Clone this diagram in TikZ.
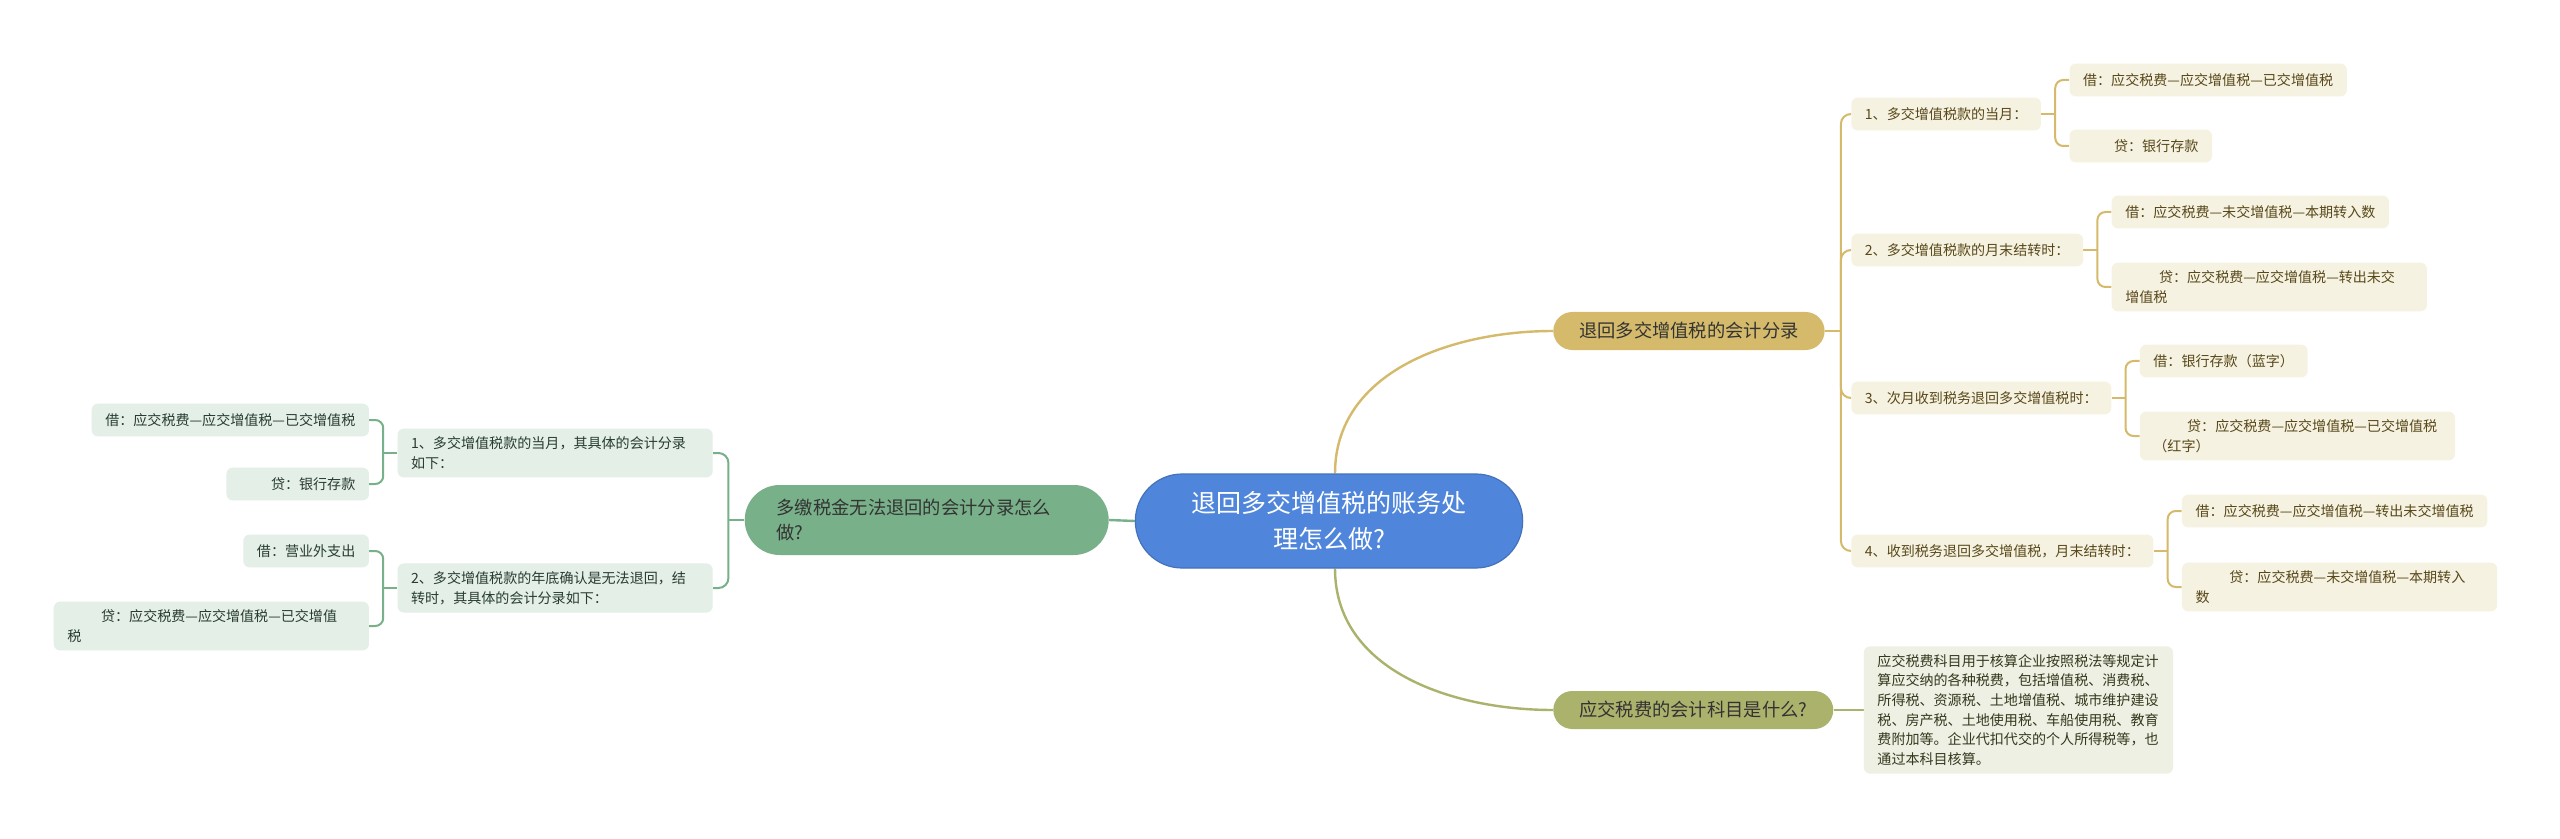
\documentclass[tikz,border=0pt]{standalone}
\usepackage{fontspec}
\usepackage{tikz}
\usepackage{xcolor}
\usetikzlibrary{positioning,backgrounds,calc}
\newfontfamily\cjk{Noto Sans CJK SC}
\definecolor{rootblue}{RGB}{79,134,219}
\definecolor{goldfill}{RGB}{212,186,106}
\definecolor{olivefill}{RGB}{171,178,108}
\definecolor{greenfill}{RGB}{120,176,137}
\definecolor{goldleaf}{RGB}{246,242,225}
\definecolor{oliveleaf}{RGB}{239,240,228}
\definecolor{greenleaf}{RGB}{228,239,232}
\definecolor{goldtext}{RGB}{88,72,26}
\definecolor{olivetext}{RGB}{52,56,28}
\definecolor{greentext}{RGB}{40,60,48}

\begin{document}
\begin{tikzpicture}[x=0.25mm,y=-0.25mm,
  topic/.style={draw=rootblue!85!black,line width=0.3mm,fill=rootblue,text=white,rounded corners=11.7mm,
    minimum height=23.5mm,inner xsep=14mm,align=center,font=\cjk\fontsize{17.8}{25.6}\selectfont},
  branch/.style={rounded corners=4.75mm,minimum height=9.5mm,inner xsep=6.5mm,text=black!80,
    font=\cjk\fontsize{13}{17.5}\selectfont},
  entry/.style={rounded corners=1.6mm,minimum height=8.2mm,inner xsep=3.4mm,inner ysep=2mm,align=left,
    font=\cjk\fontsize{10}{14}\selectfont},
  wide/.style={text width=72mm},
  gentry/.style={entry,fill=goldleaf,text=goldtext},
  oentry/.style={entry,fill=oliveleaf,text=olivetext},
  ventry/.style={entry,fill=greenleaf,text=greentext},
  wire/.style={line width=0.5mm}]
\useasboundingbox (0,0) rectangle (2560,839);
% centre
\node[topic] (root) at (1329,521) {退回多交增值税的账务处\\理怎么做?};
% right upper branch
\node[branch,fill=goldfill,anchor=west] (b1) at (1553,331) {退回多交增值税的会计分录};
\node[gentry,anchor=west] (c1) at (1851,114) {1、多交增值税款的当月：};
\node[gentry,right=7mm of c1,yshift=8.5mm] (c1a) {借：应交税费—应交增值税—已交增值税};
\node[gentry,right=7mm of c1,yshift=-8mm] (c1b) {\hspace*{2.2em}贷：银行存款};
\node[gentry,anchor=west] (c2) at (1851,250) {2、多交增值税款的月末结转时：};
\node[gentry,right=7mm of c2,yshift=9.5mm] (c2a) {借：应交税费—未交增值税—本期转入数};
\node[gentry,wide,right=7mm of c2,yshift=-9.25mm] (c2b) {\hspace*{2.4em}贷：应交税费—应交增值税—转出未交\\增值税};
\node[gentry,anchor=west] (c3) at (1851,398) {3、次月收到税务退回多交增值税时：};
\node[gentry,right=7mm of c3,yshift=9.25mm] (c3a) {借：银行存款（蓝字）};
\node[gentry,wide,right=7mm of c3,yshift=-9.5mm] (c3b) {\hspace*{2.4em}贷：应交税费—应交增值税—已交增值税\\（红字）};
\node[gentry,anchor=west] (c4) at (1851,551) {4、收到税务退回多交增值税，月末结转时：};
\node[gentry,right=7mm of c4,yshift=10mm] (c4a) {借：应交税费—应交增值税—转出未交增值税};
\node[gentry,wide,right=7mm of c4,yshift=-9mm] (c4b) {\hspace*{2.4em}贷：应交税费—未交增值税—本期转入\\数};
% right lower branch
\node[branch,fill=olivefill,anchor=west] (b2) at (1553,710) {应交税费的会计科目是什么?};
\node[oentry,text width=70.5mm,right=7.5mm of b2] (t) {应交税费科目用于核算企业按照税法等规定计\\算应交纳的各种税费，包括增值税、消费税、\\所得税、资源税、土地增值税、城市维护建设\\税、房产税、土地使用税、车船使用税、教育\\费附加等。企业代扣代交的个人所得税等，也\\通过本科目核算。};
% left branch
\node[branch,fill=greenfill,anchor=east,text width=75mm,inner xsep=8mm,minimum height=17.5mm,
  rounded corners=8.75mm,align=left] (gb) at (1109,520) {多缴税金无法退回的会计分录怎么\\做?};
\node[ventry,wide,anchor=east] (l1) at (713,453) {1、多交增值税款的当月，其具体的会计分录\\如下：};
\node[ventry,left=7mm of l1,yshift=8.25mm] (l1a) {借：应交税费—应交增值税—已交增值税};
\node[ventry,left=7mm of l1,yshift=-7.75mm] (l1b) {\hspace*{2.2em}贷：银行存款};
\node[ventry,wide,anchor=east] (l2) at (713,588) {2、多交增值税款的年底确认是无法退回，结\\转时，其具体的会计分录如下：};
\node[ventry,left=7mm of l2,yshift=9.25mm] (l2a) {借：营业外支出};
\node[ventry,wide,left=7mm of l2,yshift=-9.5mm] (l2b) {\hspace*{2.4em}贷：应交税费—应交增值税—已交增值\\税};
% connectors
\begin{scope}[on background layer]
\fill[white] (0,0) rectangle (2560,839);
\draw[wire,goldfill,line width=0.6mm] ([xshift=1.5mm]root.north) to[out=90,in=180] (b1.west);
\draw[wire,olivefill,line width=0.6mm] ([xshift=1.5mm]root.south) to[out=-90,in=180] (b2.west);
\draw[wire,greenfill,line width=0.6mm] (root.west) -- (gb.east);
\draw[wire,olivefill] (b2.east) -- (t.west);
\draw[wire,goldfill] (b1.east) -- ++(4mm,0) coordinate (j1);
\foreach \c in {c1,c2,c3,c4}
  \draw[wire,goldfill,rounded corners=2.5mm] (j1) |- (\c.west);
\foreach \p/\a/\b in {c1/c1a/c1b,c2/c2a/c2b,c3/c3a/c3b,c4/c4a/c4b}{
  \draw[wire,goldfill] (\p.east) -- ++(3.5mm,0) coordinate (jj);
  \draw[wire,goldfill,rounded corners=2mm] (jj) |- (\a.west);
  \draw[wire,goldfill,rounded corners=2mm] (jj) |- (\b.west);
}
\draw[wire,greenfill] (gb.west) -- ++(-4mm,0) coordinate (j0);
\foreach \c in {l1,l2}
  \draw[wire,greenfill,rounded corners=2.5mm] (j0) |- (\c.east);
\foreach \p/\a/\b in {l1/l1a/l1b,l2/l2a/l2b}{
  \draw[wire,greenfill] (\p.west) -- ++(-3.5mm,0) coordinate (jj);
  \draw[wire,greenfill,rounded corners=2mm] (jj) |- (\a.east);
  \draw[wire,greenfill,rounded corners=2mm] (jj) |- (\b.east);
}
\end{scope}
\end{tikzpicture}
\end{document}
